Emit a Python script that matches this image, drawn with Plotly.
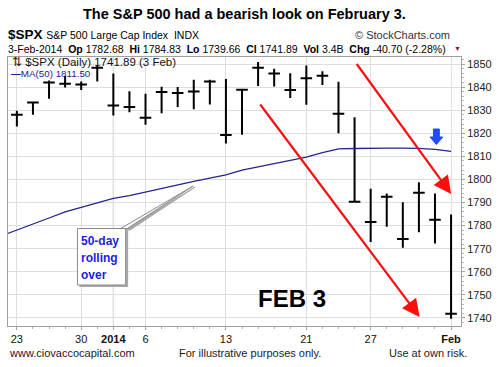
import plotly.graph_objects as go

# ---------------- data ----------------
dates = ["Dec 23", "Dec 24", "Dec 26", "Dec 27", "Dec 30", "Dec 31",
         "Jan 2", "Jan 3", "Jan 6", "Jan 7", "Jan 8", "Jan 9", "Jan 10",
         "Jan 13", "Jan 14", "Jan 15", "Jan 16", "Jan 17", "Jan 21",
         "Jan 22", "Jan 23", "Jan 24", "Jan 27", "Jan 28", "Jan 29",
         "Jan 30", "Jan 31", "Feb 3"]
high = [1829.75, 1833.32, 1842.84, 1844.89, 1842.47, 1849.44,
        1845.86, 1838.24, 1837.16, 1840.10, 1840.02, 1843.23, 1843.15,
        1843.45, 1839.26, 1850.84, 1847.99, 1846.04, 1849.31,
        1846.87, 1842.29, 1826.96, 1795.98, 1793.87, 1790.15,
        1798.77, 1793.88, 1784.83]
low = [1822.92, 1828.02, 1834.96, 1839.81, 1838.77, 1842.41,
       1827.74, 1829.13, 1823.73, 1828.71, 1831.40, 1830.38, 1832.43,
       1815.52, 1819.34, 1840.52, 1840.30, 1835.23, 1832.38,
       1840.88, 1820.06, 1790.29, 1772.88, 1779.49, 1770.45,
       1777.17, 1772.26, 1739.66]
close = [1827.99, 1833.32, 1842.02, 1841.40, 1841.07, 1848.36,
         1831.98, 1831.37, 1826.77, 1837.88, 1837.49, 1838.13, 1842.37,
         1819.20, 1838.88, 1848.38, 1845.89, 1838.70, 1843.80,
         1844.86, 1828.46, 1790.29, 1781.56, 1792.50, 1774.20,
         1794.19, 1782.59, 1741.89]
# 50-day moving average, Dec 20 .. Feb 3 (one day before the first bar)
ma50 = [1775.5, 1778.0, 1780.5, 1783.3, 1786.0, 1788.0, 1790.0,
        1791.8, 1793.0, 1794.6, 1796.3, 1797.9, 1799.2, 1800.6,
        1802.0, 1804.0, 1805.4, 1806.6, 1808.0, 1809.7,
        1811.6, 1813.2, 1813.4, 1813.6, 1813.6, 1813.6,
        1813.5, 1813.0, 1812.2]
tick_idx = [0, 4, 6, 8, 13, 18, 22, 27]
tick_text = ["23", "30", "<b>2014</b>", "6", "13", "21", "27", "<b>Feb</b>"]
y_ticks = [1740, 1750, 1760, 1770, 1780, 1790, 1800, 1810, 1820, 1830, 1840, 1850]

idx = list(range(len(dates)))
ma_idx = list(range(-1, len(dates)))

FONT = "Liberation Sans, Arial, sans-serif"

# plot area in pixels
L, R, T, B = 7, 467, 57, 326
W, H = 499, 367


def dx(p):  # pixel x -> bar index
    return (p - 16) / 16.33


def dy(p):  # pixel y -> price
    return 1850 - (p - 64) / 2.309


def px(p):  # pixel x -> paper
    return (p - L) / (R - L)


def py(p):  # pixel y -> paper
    return (B - p) / (B - T)


fig = go.Figure()

fig.add_trace(go.Scatter(
    x=ma_idx, y=ma50, mode="lines",
    line=dict(color="#25258c", width=1.3),
    hoverinfo="skip", showlegend=False))

fig.add_trace(go.Ohlc(
    x=idx, open=close, high=high, low=low, close=close,
    increasing=dict(line=dict(color="black", width=2)),
    decreasing=dict(line=dict(color="black", width=2)),
    tickwidth=0.36, hoverinfo="skip", showlegend=False))

shapes = []
# darker year-boundary gridline
shapes.append(dict(type="line", xref="x", yref="paper", x0=6, x1=6, y0=0, y1=1,
                   line=dict(color="#b0b0b0", width=1), layer="below"))


def poly(pts):
    return "M " + " L ".join(f"{dx(a):.4f},{dy(b):.4f}" for a, b in pts) + " Z"


# callout pointer (shadow + wedge)
shapes.append(dict(type="path", xref="x", yref="y",
                   path=poly([(124, 230), (197, 187), (131, 230)]),
                   fillcolor="#a8a8a8", line=dict(color="#a8a8a8", width=1)))
shapes.append(dict(type="path", xref="x", yref="y",
                   path=poly([(121.5, 228.5), (195, 186), (128, 228.5)]),
                   fillcolor="white", line=dict(color="#8a8a8a", width=1)))
# callout box shadow + box
shapes.append(dict(type="rect", xref="x", yref="y",
                   x0=dx(79.5), x1=dx(129), y0=dy(287), y1=dy(230.5),
                   fillcolor="#a8a8a8", line=dict(width=0)))
shapes.append(dict(type="rect", xref="x", yref="y",
                   x0=dx(77.5), x1=dx(126.5), y0=dy(285), y1=dy(228.5),
                   fillcolor="white", line=dict(color="#8a8a8a", width=1)))
# blue down arrow
shapes.append(dict(type="path", xref="x", yref="y",
                   path=poly([(439, 129), (445, 129), (445, 137), (448.5, 137),
                              (442, 144.5), (435.5, 137), (439, 137)]),
                   fillcolor="#1f4cff", line=dict(color="#1f4cff", width=1)))

ann = []
# red arrows
ann.append(dict(xref="x", yref="y", axref="x", ayref="y",
                x=dx(425), y=dy(317), ax=dx(262), ay=dy(103),
                showarrow=True, arrowhead=2, arrowsize=1.6, arrowwidth=2.2,
                arrowcolor="#ff0d0d", text=""))
ann.append(dict(xref="x", yref="y", axref="x", ayref="y",
                x=dx(457), y=dy(194), ax=dx(360), ay=dy(62.5),
                showarrow=True, arrowhead=2, arrowsize=1.6, arrowwidth=2.2,
                arrowcolor="#ff0d0d", text=""))

# callout text
for t, yy in [("50-day", 241), ("rolling", 258), ("over", 275)]:
    ann.append(dict(xref="paper", yref="paper", x=px(79), y=py(yy),
                    xanchor="left", yanchor="middle", showarrow=False,
                    text=f"<b>{t}</b>", font=dict(family=FONT, size=12, color="#1c1ce8")))

# FEB 3
ann.append(dict(xref="paper", yref="paper", x=px(295), y=py(298),
                xanchor="center", yanchor="middle", showarrow=False,
                text="<b>FEB 3</b>", font=dict(family=FONT, size=24, color="black")))

# inside-plot labels
ann.append(dict(xref="paper", yref="paper", x=px(9), y=py(62),
                xanchor="left", yanchor="middle", showarrow=False,
                text="⇅ $SPX (Daily) 1741.89 (3 Feb)",
                font=dict(family=FONT, size=11.5, color="#111")))
ann.append(dict(xref="paper", yref="paper", x=px(8), y=py(73.5),
                xanchor="left", yanchor="middle", showarrow=False,
                text="<b>—</b>MA(50) 1811.50",
                font=dict(family=FONT, size=9.8, color="#1a1a8c")))

# header
ann.append(dict(xref="paper", yref="paper", x=px(247), y=py(14),
                xanchor="center", yanchor="middle", showarrow=False,
                text="<b>The S&P 500 had a bearish look on February 3.</b>",
                font=dict(family=FONT, size=14.5, color="black")))
ann.append(dict(xref="paper", yref="paper", x=px(5), y=py(35),
                xanchor="left", yanchor="middle", showarrow=False,
                text="<b>$SPX</b> <span style='font-size:10.5px'>S&P 500 Large Cap Index  INDX</span>",
                font=dict(family=FONT, size=13.5, color="black")))
ann.append(dict(xref="paper", yref="paper", x=px(458), y=py(35),
                xanchor="right", yanchor="middle", showarrow=False,
                text="© StockCharts.com",
                font=dict(family=FONT, size=11, color="#333")))
ann.append(dict(xref="paper", yref="paper", x=px(5), y=py(49),
                xanchor="left", yanchor="middle", showarrow=False,
                text="3-Feb-2014  <b>Op</b> 1782.68  <b>Hi</b> 1784.83  <b>Lo</b> 1739.66  "
                     "<b>Cl</b> 1741.89  <b>Vol</b> 3.4B  <b>Chg</b> -40.70 (-2.28%)",
                font=dict(family=FONT, size=10.5, color="black")))
ann.append(dict(xref="paper", yref="paper", x=px(463), y=py(49),
                xanchor="center", yanchor="middle", showarrow=False,
                text="▼", font=dict(family=FONT, size=7, color="#8b1a3a")))

# footer
ann.append(dict(xref="paper", yref="paper", x=px(6), y=py(353),
                xanchor="left", yanchor="middle", showarrow=False,
                text="www.ciovaccocapital.com",
                font=dict(family=FONT, size=11, color="#1a1a2a")))
ann.append(dict(xref="paper", yref="paper", x=px(253), y=py(353),
                xanchor="center", yanchor="middle", showarrow=False,
                text="For illustrative purposes only.",
                font=dict(family=FONT, size=11, color="#1a1a2a")))
ann.append(dict(xref="paper", yref="paper", x=px(475), y=py(353),
                xanchor="right", yanchor="middle", showarrow=False,
                text="Use at own risk.",
                font=dict(family=FONT, size=11, color="#1a1a2a")))

fig.update_layout(
    width=W, height=H,
    margin=dict(l=L, r=W - R, t=T, b=H - B, pad=0),
    paper_bgcolor="white", plot_bgcolor="white",
    showlegend=False,
    shapes=shapes, annotations=ann,
    xaxis=dict(range=[dx(L), dx(R)], tickmode="array", tickvals=tick_idx,
               ticktext=tick_text, showgrid=True, gridcolor="#dedede",
               gridwidth=1, zeroline=False, showline=True, linecolor="#a0a0a0",
               mirror=True, ticks="outside", ticklen=3, tickcolor="#a0a0a0",
               tickfont=dict(family=FONT, size=11, color="#111"),
               minor=dict(dtick=1, tick0=0, ticks="outside", ticklen=2,
                          tickcolor="#b0b0b0", showgrid=False),
               rangeslider=dict(visible=False), fixedrange=True),
    yaxis=dict(range=[dy(B), dy(T)], side="right", tickvals=y_ticks,
               showgrid=True, gridcolor="#dedede", gridwidth=1,
               zeroline=False, showline=True, linecolor="#a0a0a0", mirror=True,
               ticks="outside", ticklen=3, tickcolor="#a0a0a0",
               tickfont=dict(family=FONT, size=11, color="#222"),
               minor=dict(dtick=2, ticks="outside", ticklen=2,
                          tickcolor="#b8b8b8", showgrid=False),
               fixedrange=True),
)

fig.write_html("out.html", config={"displayModeBar": False},
               post_script="document.body.style.margin='0';")
